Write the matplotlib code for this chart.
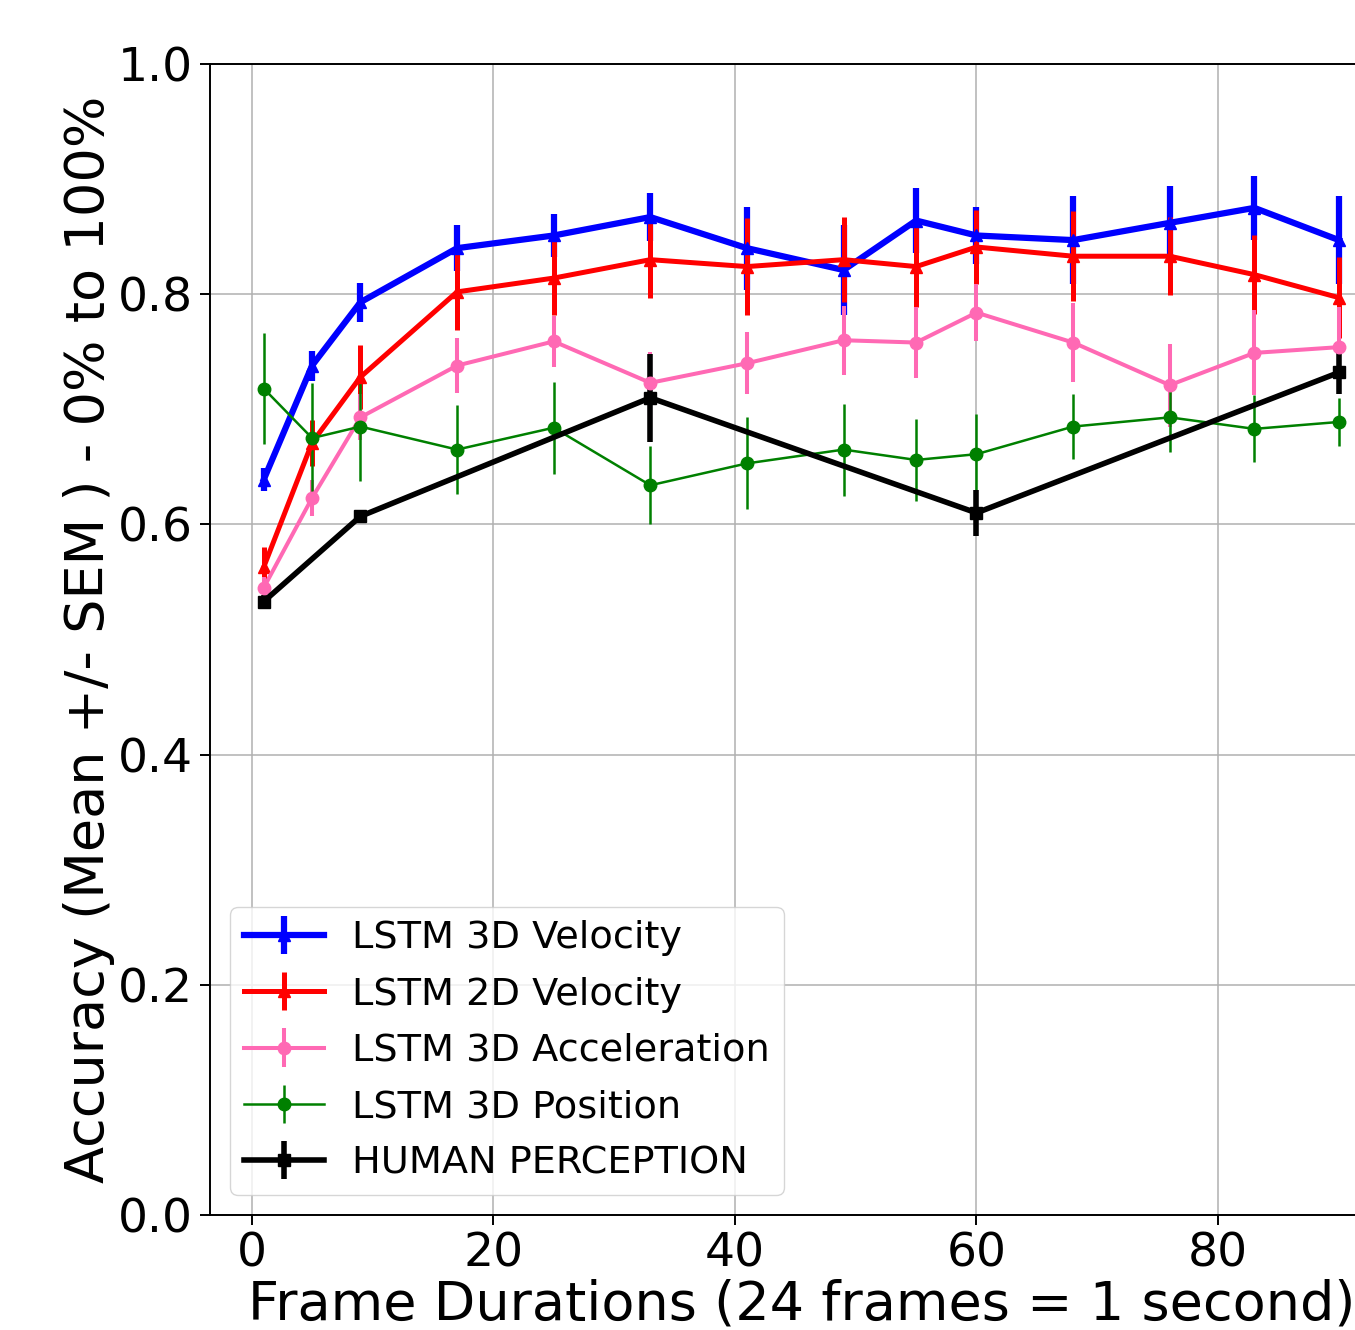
import matplotlib
matplotlib.use("Agg")
import matplotlib.pyplot as plt

# ---- data ----
frames = [1, 5, 9, 17, 25, 33, 41, 49, 55, 60, 68, 76, 83, 90]

vel3d_mean = [0.639, 0.738, 0.793, 0.840, 0.851, 0.867, 0.840, 0.821, 0.864, 0.851, 0.847, 0.862, 0.875, 0.847]
vel3d_sem  = [0.010, 0.013, 0.017, 0.020, 0.019, 0.021, 0.036, 0.039, 0.028, 0.025, 0.038, 0.032, 0.028, 0.038]

vel2d_mean = [0.563, 0.671, 0.728, 0.802, 0.814, 0.830, 0.824, 0.830, 0.824, 0.841, 0.833, 0.833, 0.817, 0.797]
vel2d_sem  = [0.017, 0.020, 0.028, 0.033, 0.032, 0.033, 0.042, 0.037, 0.035, 0.032, 0.039, 0.034, 0.034, 0.035]

acc3d_mean = [0.545, 0.623, 0.693, 0.738, 0.759, 0.723, 0.740, 0.760, 0.758, 0.784, 0.758, 0.721, 0.749, 0.754]
acc3d_sem  = [0.009, 0.016, 0.020, 0.024, 0.022, 0.027, 0.027, 0.030, 0.031, 0.025, 0.034, 0.036, 0.037, 0.035]

pos3d_mean = [0.718, 0.675, 0.685, 0.665, 0.684, 0.634, 0.653, 0.665, 0.656, 0.661, 0.685, 0.693, 0.683, 0.689]
pos3d_sem  = [0.048, 0.048, 0.047, 0.039, 0.040, 0.034, 0.040, 0.040, 0.036, 0.035, 0.028, 0.030, 0.029, 0.021]

human_frames = [1, 9, 33, 60, 90]
human_mean = [0.533, 0.607, 0.710, 0.610, 0.732]
human_sem  = [0.006, 0.005, 0.038, 0.020, 0.019]

labels = ["LSTM 3D Velocity", "LSTM 2D Velocity", "LSTM 3D Acceleration",
          "LSTM 3D Position", "HUMAN PERCEPTION"]

# ---- figure ----
fig = plt.figure(figsize=(13.55, 13.30), dpi=100)
W, H = 1355, 1330
x0, x1 = -3.45, 94.45
left_px, top_px, bottom_px = 210, 64, 1215
px_per_unit = (1218 - 251) / 80.0
right_px = 251 + x1 * px_per_unit
ax = fig.add_axes([left_px / W, (H - bottom_px) / H,
                   (right_px - left_px) / W, (bottom_px - top_px) / H])

ax.errorbar(frames, vel3d_mean, yerr=vel3d_sem, color="blue", lw=4.5,
            marker="^", ms=9, label=labels[0])
ax.errorbar(frames, vel2d_mean, yerr=vel2d_sem, color="red", lw=3.6,
            marker="^", ms=9, label=labels[1])
ax.errorbar(frames, acc3d_mean, yerr=acc3d_sem, color="#ff69b4", lw=2.9,
            marker="o", ms=9, label=labels[2])
ax.errorbar(frames, pos3d_mean, yerr=pos3d_sem, color="green", lw=1.8,
            marker="o", ms=9, label=labels[3])
ax.errorbar(human_frames, human_mean, yerr=human_sem, color="black", lw=4.0,
            marker="s", ms=9, label=labels[4])

ax.set_xlim(x0, x1)
ax.set_ylim(0.0, 1.0)
ax.set_xticks([0, 20, 40, 60, 80])
ax.set_yticks([0.0, 0.2, 0.4, 0.6, 0.8, 1.0])
ax.grid(True, color="#b0b0b0", lw=1.1)
ax.set_axisbelow(True)
for s in ax.spines.values():
    s.set_linewidth(1.4)
ax.tick_params(axis="both", labelsize=34, length=7, width=1.4, pad=5)

ax.set_xlabel("Frame Durations (24 frames = 1 second)", fontsize=39, labelpad=1)
ax.set_ylabel("Accuracy (Mean +/- SEM ) - 0% to 100%", fontsize=39, labelpad=2)

ax.legend(loc="lower left", fontsize=27.5, bbox_to_anchor=(0, 0),
          borderaxespad=0.53, handlelength=2.1, borderpad=0.35,
          labelspacing=0.53, handletextpad=0.75)

fig.savefig("out.png", dpi=100)
